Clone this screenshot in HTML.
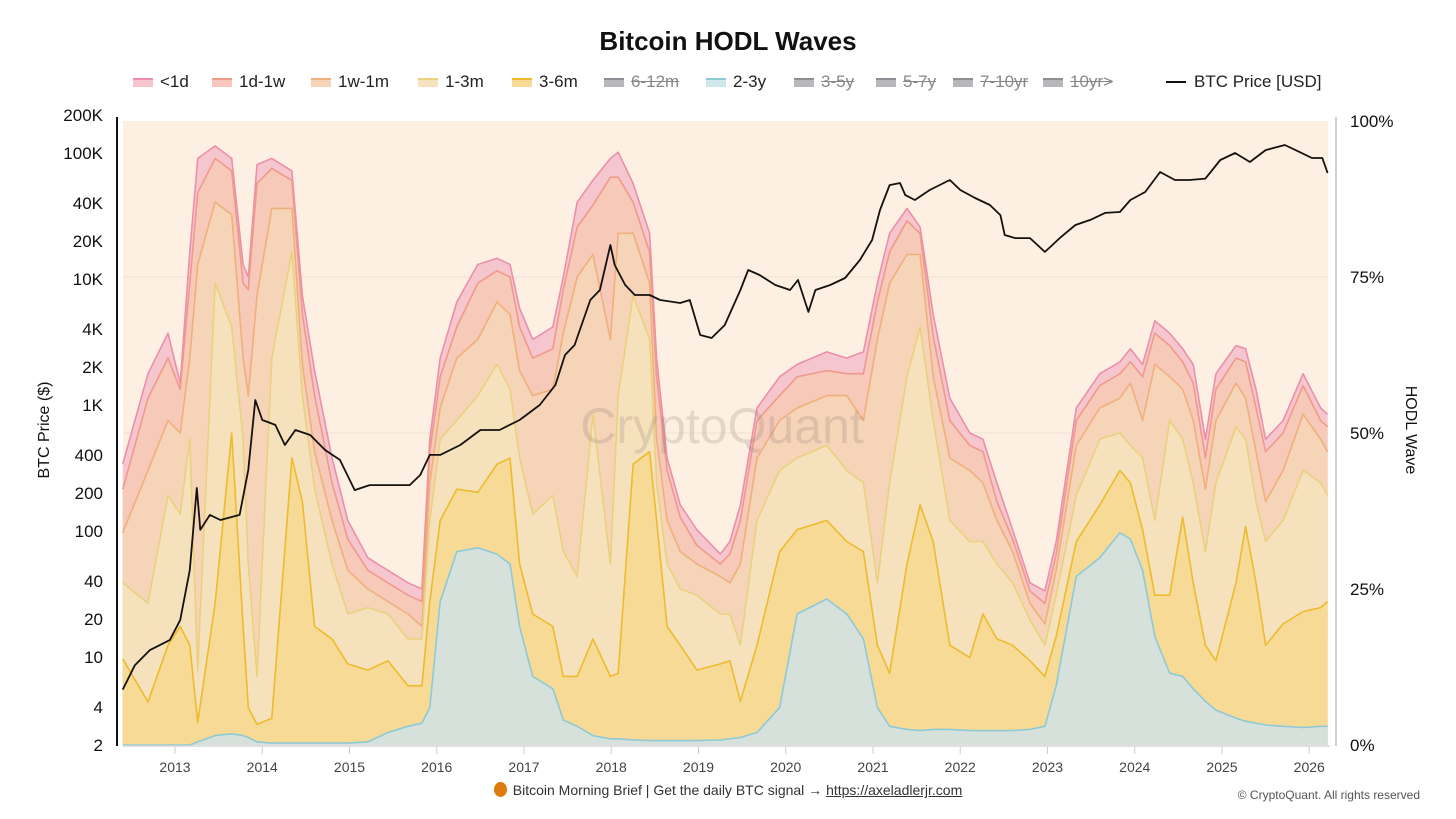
<!DOCTYPE html>
<html><head><meta charset="utf-8"><style>
html,body{margin:0;padding:0;background:#fff;}
body{width:1456px;height:819px;position:relative;overflow:hidden;font-family:"Liberation Sans",sans-serif;}
.t{position:absolute;white-space:nowrap;}
.leg{position:absolute;top:72px;height:20px;font-size:17px;color:#222;display:flex;align-items:center;white-space:nowrap;}
.sw{display:inline-block;width:20px;height:7px;margin-right:7px;border-top:2px solid;}
.off{color:#888;text-decoration:line-through;}
.off .sw{background:#b8b8bc;border-color:#8e8e94;}
</style></head><body>
<div class="t" style="left:0;width:1456px;text-align:center;top:26px;font-size:26px;font-weight:bold;color:#111;">Bitcoin HODL Waves</div>
<div class="leg" style="left:133px"><span class="sw" style="background:#f6c5d0;border-color:#ec8faa"></span>&lt;1d</div>
<div class="leg" style="left:212px"><span class="sw" style="background:#f7c6bc;border-color:#ef9a8a"></span>1d-1w</div>
<div class="leg" style="left:311px"><span class="sw" style="background:#f7d3ba;border-color:#f0b07c"></span>1w-1m</div>
<div class="leg" style="left:418px"><span class="sw" style="background:#f5e3bd;border-color:#ead17e"></span>1-3m</div>
<div class="leg" style="left:512px"><span class="sw" style="background:#f6da95;border-color:#edbb2e"></span>3-6m</div>
<div class="leg off" style="left:604px"><span class="sw"></span>6-12m</div>
<div class="leg" style="left:706px"><span class="sw" style="background:#cfe8ee;border-color:#8ecad6"></span>2-3y</div>
<div class="leg off" style="left:794px"><span class="sw"></span>3-5y</div>
<div class="leg off" style="left:876px"><span class="sw"></span>5-7y</div>
<div class="leg off" style="left:953px"><span class="sw"></span>7-10yr</div>
<div class="leg off" style="left:1043px"><span class="sw"></span>10yr&gt;</div>
<div class="leg" style="left:1166px"><span style="display:inline-block;width:20px;height:2px;background:#111;margin-right:8px"></span>BTC Price [USD]</div>

<svg id="chart" width="1456" height="819" style="position:absolute;left:0;top:0" xmlns="http://www.w3.org/2000/svg"></svg>

<div class="t" style="left:0;width:1456px;text-align:center;top:782px;font-size:14px;color:#333;"><span style="display:inline-block;width:13px;height:15px;border-radius:50%;background:#e07a0a;vertical-align:-2px;margin-right:6px"></span>Bitcoin Morning Brief | Get the daily BTC signal → <span style="text-decoration:underline">https://axeladlerjr.com</span></div>
<div class="t" style="right:36px;top:788px;font-size:12px;color:#555;">© CryptoQuant. All rights reserved</div>

<script>
const dates=[2012.40,2012.69,2012.92,2013.06,2013.17,2013.26,2013.46,2013.65,2013.78,2013.84,2013.94,2014.11,2014.34,2014.46,2014.60,2014.80,2014.98,2015.21,2015.44,2015.67,2015.83,2015.92,2016.04,2016.23,2016.47,2016.69,2016.84,2016.95,2017.10,2017.33,2017.45,2017.61,2017.79,2017.99,2018.08,2018.25,2018.44,2018.52,2018.64,2018.79,2018.98,2019.25,2019.36,2019.48,2019.67,2019.93,2020.13,2020.47,2020.70,2020.89,2021.05,2021.19,2021.39,2021.54,2021.69,2021.88,2022.11,2022.26,2022.42,2022.60,2022.80,2022.97,2023.10,2023.33,2023.60,2023.83,2023.95,2024.09,2024.23,2024.40,2024.55,2024.67,2024.81,2024.93,2025.16,2025.27,2025.39,2025.50,2025.70,2025.93,2026.13,2026.21];
// cumulative upper edge (%) of each stacked band
const cumLt1d=[45,59.5,66,58,79,94,96,94,77,75,93,94,92,72,60,46,36,30,28,26,25,49,62,71,77,78,77,70,65,67,75,87,90.5,94,95,90,82,62,46,38.5,34.5,30.6,32.6,38.5,54,59,61,63,62,63,74,82,86,83,69,55.6,50,49,42,34.5,26,24.7,32.6,54,59.5,61.4,63.5,61,68,66,63.5,61,49,59.5,64,63.5,57,49,52,59.5,54,53];
const cum1d1w=[41,55.6,62,57,74,88.5,94,92,74,73,90,92.4,90.5,69,56,42,33,28,26,24,23,47,59,67,74,76,75,67,62,63.5,73,83,86.5,91,91,87,79,59,44,36.5,32,29,30.6,36,52,56,59,60,59.5,59.5,71,79,84,82,65.5,52,48,47,39,33,24.7,22.7,30.6,52,57.6,59.5,61.4,59,66,64,61.4,58,46,57,62,61.4,54,47,50,57.6,52,51];
const cum1w1m=[34,44,52,50,62,77,87,85,62,56,72,86,86,61,47,36,28,25,23,21,19,42,54,62,65,71,69,60,56,57,66,75,78.6,65,82,82,74,49,36,31,29,27,26,29,46,52,54,56,56,52,65,74,78.6,78.6,59,46,44,42,36,31,22.7,19.4,28,48,54,55.6,58,52,61,59,57,52,41,52,58,55.6,47,39,44,53,49,47];
const cum1to3m=[26,22.7,40,37,49,12,74,67,49,29,11,62,79,56,41,29,21,22,21,17,17,36,49,52,56,61,57,46,37,40,31,27,53,29,56,72,65,42,29,25,24,21,21,16,36,44,46,48,44,42,26,42,59,67,52,36,32.6,32.6,29,26,20,16,24,40,49,50,48,46,36,52,49,42,31,42,51,49,39,32.6,36,44,42,40];
const cum3to6m=[13.8,6.9,16,19,16,3.6,22.7,50,19,6,3.3,4.3,46,39,19,17,13,12,13.5,9.5,9.5,23,36,41,40.5,45,46,29,21,19,11,11,17,11,11.5,45,47,36,19,16,12,13,13.5,7,16,31,34.5,36,32.6,31,16,11.5,29,38.5,32.6,16,14,21,17,16,13.5,11,17.4,32.6,38.5,44,42,34.5,24,24,36.5,26,16,13.5,26,35,26,16,19.4,21.4,22,23];
const cum2to3y=[0,0,0,0,0,0.5,1.5,1.8,1.5,1.2,0.5,0.3,0.3,0.3,0.3,0.3,0.3,0.5,2,3,3.5,6,23,31,31.6,30.6,29,19,11,9,4,3,1.5,1,1,0.8,0.7,0.7,0.7,0.7,0.7,0.8,1,1.2,2,6,21,23.4,21,17,6,3,2.5,2.3,2.5,2.5,2.3,2.3,2.3,2.3,2.5,3,9.5,27,30,34,33,28,17.4,11.5,11,9,7,5.6,4.3,3.8,3.5,3.2,3,2.8,3,3];
const priceDates=[2012.40,2012.54,2012.71,2012.94,2013.06,2013.17,2013.25,2013.29,2013.40,2013.52,2013.74,2013.84,2013.92,2014.00,2014.15,2014.26,2014.38,2014.55,2014.72,2014.89,2015.06,2015.23,2015.46,2015.69,2015.81,2015.92,2016.04,2016.27,2016.50,2016.72,2016.95,2017.18,2017.36,2017.47,2017.58,2017.76,2017.87,2017.99,2018.04,2018.16,2018.27,2018.44,2018.56,2018.79,2018.90,2019.02,2019.15,2019.30,2019.48,2019.57,2019.70,2019.88,2020.05,2020.14,2020.26,2020.34,2020.51,2020.68,2020.85,2020.99,2021.08,2021.19,2021.31,2021.37,2021.48,2021.65,2021.88,2022.00,2022.17,2022.34,2022.46,2022.51,2022.63,2022.80,2022.97,2023.03,2023.14,2023.32,2023.49,2023.66,2023.83,2023.95,2024.12,2024.29,2024.46,2024.63,2024.81,2024.98,2025.15,2025.32,2025.50,2025.72,2025.89,2026.03,2026.15,2026.21];
const prices=[5.5,8.6,11.3,13.6,19.6,49,219,102,134,122,134,305,1095,759,694,481,632,577,439,366,211,231,231,231,278,401,401,481,632,632,759,998,1440,2490,2990,6800,8170,18600,12900,8950,7450,7450,6800,6440,6800,3590,3400,4300,8170,11780,10740,8950,8170,9800,5470,8170,8950,10170,14130,20380,35240,55600,57700,46300,42300,50800,61000,50800,43900,38600,32100,22300,21100,21100,16400,17900,21100,26800,29400,33400,34000,42300,49000,70600,61000,61000,62600,87900,99800,84700,105400,115600,101600,91200,91200,69300];
const priceTicks=[2,4,10,20,40,100,200,400,1000,2000,4000,10000,20000,40000,100000,200000];
const priceTickLabels=["2","4","10","20","40","100","200","400","1K","2K","4K","10K","20K","40K","100K","200K"];
const pctTicks=[0,25,50,75,100];
const yearTicks=[2013,2014,2015,2016,2017,2018,2019,2020,2021,2022,2023,2024,2025,2026];

const NS="http://www.w3.org/2000/svg";
const svg=document.getElementById('chart');
const PL=123,PR=1328,PT=121,PB=745;
const x=y=>175+(y-2013)*87.25;
const yp=p=>PB-p/100*(PB-PT);
const yl=v=>PB-(Math.log10(v)-Math.log10(2))*126;
function mk(tag,attrs){const e=document.createElementNS(NS,tag);for(const k in attrs)e.setAttribute(k,attrs[k]);svg.appendChild(e);return e;}

const bg=mk('rect',{x:PL,y:PT,width:PR-PL,height:PB-PT,fill:'#fdf0e2'});


pctTicks.slice(1,4).forEach(p=>{const g=mk('line',{x1:PL,x2:PR,y1:yp(p),y2:yp(p),stroke:'#f1e2d3','stroke-width':1});

});

const bands=[
 {d:cumLt1d,f:'#f6c6cf',s:'#ec8faa',n:'area-lt1d'},
 {d:cum1d1w,f:'#f6c9b8',s:'#ef9a8a',n:'area-1d-1w'},
 {d:cum1w1m,f:'#f6d4b8',s:'#f0b07c',n:'area-1w-1m'},
 {d:cum1to3m,f:'#f5e2bc',s:'#ead17e',n:'area-1-3m'},
 {d:cum3to6m,f:'#f6da95',s:'#edbb2e',n:'area-3-6m'},
 {d:cum2to3y,f:'#d6e1dc',s:'#8ecad6',n:'area-2-3y'}];
bands.forEach(b=>{
 const pts=dates.map((t,i)=>x(t).toFixed(1)+','+yp(b.d[i]).toFixed(1));
 const a=mk('polygon',{points:x(dates[0])+','+PB+' '+pts.join(' ')+' '+x(dates[dates.length-1])+','+PB,fill:b.f});
 
 
});
bands.forEach(b=>{
 const pts=dates.map((t,i)=>x(t).toFixed(1)+','+yp(b.d[i]).toFixed(1));
 const l=mk('polyline',{points:pts.join(' '),fill:'none',stroke:b.s,'stroke-width':1.6,'stroke-linejoin':'round'});
 
 
});

const wm=mk('text',{x:722,y:443,'text-anchor':'middle','font-size':50,'font-family':'Liberation Sans, sans-serif',fill:'#8a7a72','fill-opacity':0.22});
wm.textContent='CryptoQuant';



const pl=mk('polyline',{points:priceDates.map((t,i)=>x(t).toFixed(1)+','+yl(prices[i]).toFixed(1)).join(' '),fill:'none',stroke:'#15110e','stroke-width':1.8,'stroke-linejoin':'round'});



const la=mk('line',{x1:117,x2:117,y1:117,y2:746,stroke:'#111','stroke-width':2});


const ra=mk('line',{x1:1336,x2:1336,y1:117,y2:746,stroke:'#d0d0d6','stroke-width':2});


const ba=mk('line',{x1:123,x2:1330,y1:746,y2:746,stroke:'#d6d6d6','stroke-width':1.5});



priceTicks.forEach((v,i)=>{const t=mk('text',{x:103,y:yl(v)+6,'text-anchor':'end','font-size':17,fill:'#111','font-family':'Liberation Sans, sans-serif'});t.textContent=priceTickLabels[i];

});
pctTicks.forEach(p=>{const t=mk('text',{x:1350,y:yp(p)+6,'font-size':17,fill:'#111','font-family':'Liberation Sans, sans-serif'});t.textContent=p+'%';

});
yearTicks.forEach(yr=>{
 const k=mk('line',{x1:x(yr),x2:x(yr),y1:747,y2:754,stroke:'#ccc'});
 
 
 const t=mk('text',{x:x(yr),y:772,'text-anchor':'middle','font-size':14,fill:'#444','font-family':'Liberation Sans, sans-serif'});t.textContent=yr;
 
 
});
const lt=mk('text',{x:0,y:0,transform:'translate(49,430) rotate(-90)','text-anchor':'middle','font-size':16,fill:'#111','font-family':'Liberation Sans, sans-serif'});lt.textContent='BTC Price ($)';


const rt=mk('text',{x:0,y:0,transform:'translate(1406,430) rotate(90)','text-anchor':'middle','font-size':16,fill:'#111','font-family':'Liberation Sans, sans-serif'});rt.textContent='HODL Wave';


</script>
</body></html>
